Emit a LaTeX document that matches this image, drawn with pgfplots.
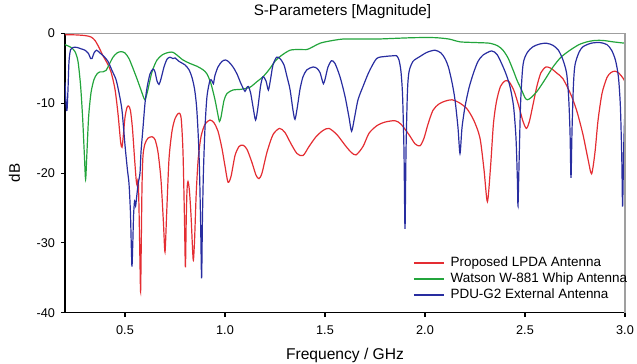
\documentclass[border=0pt]{standalone}
\usepackage{fontspec}
\setmainfont{Liberation Sans}
\usepackage{pgfplots}
\pgfplotsset{compat=1.18}
\definecolor{cred}{RGB}{228,45,50}
\definecolor{cgreen}{RGB}{35,165,60}
\definecolor{cblue}{RGB}{40,45,160}

\begin{document}
\begin{tikzpicture}
\begin{axis}[name=ax, at={(0,0)}, anchor=south west,
  scale only axis, width=420pt, height=209.4pt,
  xmin=0.2, xmax=3.0, ymin=-40, ymax=0,
  xtick={0.5,1.0,1.5,2.0,2.5,3.0},
  ytick={-40,-30,-20,-10,0},
  axis x line*=bottom, axis y line*=left,
  axis line style={-, black, line width=1.1pt},
  tick style={black, line width=0.8pt},
  major tick length=3pt, tick align=outside,
  x tick label style={yshift=-3pt, /pgf/number format/.cd, fixed, fixed zerofill, precision=1},
  y tick label style={xshift=-1pt},
  /pgf/number format/assume math mode=true,
  tick label style={font=\fontsize{9.5}{11}\selectfont},
  title={S-Parameters [Magnitude]},
  title style={at={(axis description cs:0.5,1)}, anchor=base, yshift=7.7pt, xshift=-1.9pt, font=\fontsize{11.4}{13}\selectfont},
  xlabel={Frequency / GHz},
  xlabel style={at={(axis description cs:0.5,-0.169)}, anchor=base, font=\fontsize{11.7}{13}\selectfont},
  ylabel={dB},
  ylabel style={at={(axis description cs:-0.0905,0.5)}, anchor=center, font=\fontsize{11.4}{13}\selectfont},
  legend style={at={(axis description cs:0.621,0.208)}, anchor=north west, draw=none, fill=none,
    font=\fontsize{10.1}{12}\selectfont, inner sep=0pt, row sep=-0.55pt, column sep=3.5pt,
    nodes={inner sep=1pt, text height=8pt, text depth=2.5pt}, cells={anchor=west}},
  legend image code/.code={\draw[#1] (0pt,0pt) -- (22.5pt,0pt);},
  after end axis/.code={\draw[draw=gray!75, line width=1.1pt] (rel axis cs:0,1) -- (rel axis cs:1,1) -- (rel axis cs:1,0);},
]
\addlegendimage{draw=cred, line width=1.15pt}
\addlegendentry{Proposed LPDA Antenna}
\addlegendimage{draw=cgreen, line width=1.15pt}
\addlegendentry{Watson W-881 Whip Antenna}
\addlegendimage{draw=cblue, line width=1.15pt}
\addlegendentry{PDU-G2 External Antenna}
\addplot[draw=cred, line width=0.9pt, smooth, tension=0.45, forget plot] coordinates {
(0.200,-0.2) (0.250,-0.2) (0.300,-0.3) (0.330,-0.5) (0.350,-1.0) (0.370,-2.0) (0.390,-3.2)
(0.410,-4.2) (0.430,-5.5) (0.450,-8.0) (0.465,-11.5) (0.478,-15.5) (0.485,-16.3) (0.492,-14.5)
(0.500,-12.0) (0.510,-10.6) (0.518,-10.4) (0.527,-11.0) (0.537,-13.5) (0.548,-18.0) (0.556,-21.0)
(0.561,-21.8) (0.566,-21.0) (0.570,-25.0) (0.575,-33.0) (0.578,-37.0) (0.581,-31.0) (0.585,-22.0)
(0.590,-17.5) (0.600,-15.8) (0.615,-15.0) (0.635,-14.8) (0.650,-15.2) (0.665,-17.0) (0.680,-21.0)
(0.692,-27.0) (0.700,-31.3) (0.708,-26.0) (0.720,-18.0) (0.735,-14.0) (0.750,-12.2) (0.765,-11.5)
(0.775,-11.5) (0.782,-12.5) (0.790,-17.0) (0.797,-26.0) (0.802,-33.5) (0.806,-27.0) (0.810,-22.5)
(0.815,-21.2) (0.822,-22.5) (0.830,-26.0) (0.838,-31.0) (0.842,-32.5) (0.848,-29.5) (0.856,-23.0)
(0.866,-18.0) (0.880,-14.8) (0.900,-13.0) (0.925,-12.4) (0.945,-12.8) (0.965,-14.0) (0.985,-16.5)
(1.000,-19.0) (1.015,-21.3) (1.030,-20.5) (1.050,-17.5) (1.070,-16.2) (1.090,-16.0) (1.110,-16.6)
(1.135,-18.5) (1.155,-20.3) (1.170,-20.8) (1.185,-20.0) (1.210,-17.0) (1.240,-14.5) (1.273,-13.6)
(1.300,-14.2) (1.330,-15.8) (1.360,-17.2) (1.390,-17.5) (1.420,-16.2) (1.455,-14.8) (1.490,-13.9)
(1.520,-13.6) (1.560,-14.5) (1.600,-16.0) (1.630,-17.0) (1.655,-17.4) (1.690,-16.2) (1.720,-14.3)
(1.760,-13.2) (1.800,-12.7) (1.850,-12.5) (1.880,-13.0) (1.920,-14.5) (1.950,-15.8) (1.975,-16.1)
(1.995,-15.0) (2.015,-13.0) (2.040,-11.0) (2.070,-10.1) (2.100,-9.7) (2.135,-9.5) (2.170,-9.9)
(2.210,-10.8) (2.245,-12.5) (2.275,-15.0) (2.295,-19.5) (2.312,-24.1) (2.328,-19.0) (2.342,-13.0)
(2.357,-9.8) (2.377,-7.6) (2.400,-6.8) (2.420,-6.9) (2.445,-8.2) (2.470,-10.5) (2.490,-12.6)
(2.507,-13.6) (2.522,-12.6) (2.540,-10.2) (2.560,-7.5) (2.580,-5.6) (2.605,-4.8) (2.630,-5.0)
(2.660,-5.7) (2.690,-6.5) (2.730,-8.8) (2.760,-11.2) (2.790,-14.5) (2.815,-18.0) (2.833,-20.1)
(2.850,-17.0) (2.865,-12.5) (2.885,-8.6) (2.910,-6.3) (2.930,-5.6) (2.950,-5.4) (2.970,-5.7)
(2.990,-6.4) (3.000,-6.9)
};
\addplot[draw=cgreen, line width=0.9pt, smooth, tension=0.45, forget plot] coordinates {
(0.200,-1.6) (0.230,-2.0) (0.250,-2.6) (0.265,-4.0) (0.278,-7.5) (0.288,-12.0) (0.297,-17.5)
(0.303,-20.9) (0.309,-17.5) (0.318,-12.0) (0.330,-8.5) (0.345,-6.6) (0.360,-5.8) (0.375,-5.5)
(0.390,-5.5) (0.405,-5.3) (0.420,-4.5) (0.440,-3.4) (0.460,-2.8) (0.480,-2.6) (0.500,-2.8)
(0.520,-3.6) (0.540,-5.0) (0.560,-6.5) (0.580,-8.1) (0.595,-9.3) (0.602,-9.4) (0.615,-8.0)
(0.635,-5.5) (0.660,-3.8) (0.690,-3.0) (0.720,-2.7) (0.740,-2.7) (0.760,-3.1) (0.790,-3.8)
(0.825,-4.3) (0.860,-4.7) (0.890,-5.2) (0.910,-5.8) (0.930,-7.2) (0.950,-9.5) (0.965,-11.7)
(0.972,-12.6) (0.980,-12.0) (0.995,-9.6) (1.010,-8.6) (1.040,-8.1) (1.080,-8.0) (1.125,-7.7)
(1.160,-6.9) (1.190,-6.2) (1.220,-5.2) (1.250,-4.0) (1.280,-3.2) (1.325,-2.4) (1.370,-2.3)
(1.410,-2.3) (1.440,-1.9) (1.475,-1.4) (1.520,-1.1) (1.590,-0.8) (1.680,-0.8) (1.760,-0.8)
(1.850,-0.7) (1.950,-0.6) (2.050,-0.6) (2.120,-0.8) (2.175,-1.2) (2.250,-1.3) (2.325,-1.4)
(2.365,-1.8) (2.390,-2.4) (2.415,-3.5) (2.440,-5.2) (2.460,-6.7) (2.483,-8.1) (2.500,-9.2)
(2.512,-9.5) (2.530,-9.2) (2.560,-8.3) (2.600,-6.6) (2.640,-4.8) (2.680,-3.4) (2.725,-2.4)
(2.770,-1.6) (2.810,-1.2) (2.850,-1.0) (2.890,-1.0) (2.940,-1.2) (3.000,-1.4)
};
\addplot[draw=cblue, line width=0.9pt, smooth, tension=0.45, forget plot] coordinates {
(0.200,-7.0) (0.205,-10.0) (0.210,-11.0) (0.215,-8.0) (0.220,-4.0) (0.228,-2.3) (0.240,-2.0)
(0.260,-2.0) (0.280,-2.2) (0.300,-2.4) (0.318,-2.9) (0.328,-3.6) (0.335,-3.6) (0.345,-2.8)
(0.358,-2.4) (0.375,-2.8) (0.395,-3.3) (0.415,-4.0) (0.435,-5.3) (0.455,-6.6) (0.470,-8.5)
(0.485,-11.0) (0.500,-16.0) (0.512,-19.5) (0.520,-21.5) (0.527,-25.5) (0.532,-31.0) (0.535,-33.4)
(0.539,-30.0) (0.543,-26.0) (0.548,-24.0) (0.553,-24.7) (0.558,-23.5) (0.566,-21.5) (0.575,-20.0)
(0.580,-17.0) (0.590,-13.5) (0.600,-10.0) (0.610,-7.8) (0.625,-5.8) (0.640,-5.1) (0.650,-5.5)
(0.660,-6.8) (0.670,-7.3) (0.680,-6.5) (0.695,-4.8) (0.710,-3.7) (0.725,-3.4) (0.740,-3.6)
(0.750,-3.5) (0.770,-4.0) (0.800,-4.5) (0.820,-5.2) (0.835,-6.3) (0.848,-8.0) (0.858,-10.5)
(0.866,-14.5) (0.872,-19.0) (0.878,-27.0) (0.883,-35.1) (0.887,-27.0) (0.892,-20.0) (0.900,-13.5)
(0.910,-9.0) (0.925,-6.7) (0.935,-6.8) (0.942,-7.2) (0.950,-6.0) (0.965,-4.8) (0.985,-4.0)
(1.003,-3.8) (1.020,-4.1) (1.040,-4.8) (1.060,-5.8) (1.080,-7.2) (1.100,-8.3) (1.108,-7.8)
(1.117,-7.6) (1.128,-8.5) (1.140,-10.5) (1.153,-12.4) (1.165,-10.5) (1.178,-7.5) (1.190,-6.2)
(1.205,-6.8) (1.217,-8.1) (1.228,-6.5) (1.240,-4.5) (1.258,-3.4) (1.275,-3.6) (1.295,-4.5)
(1.310,-6.2) (1.325,-8.0) (1.340,-11.0) (1.350,-12.3) (1.362,-10.5) (1.375,-8.0) (1.390,-6.2)
(1.410,-5.2) (1.440,-4.8) (1.460,-5.0) (1.475,-5.6) (1.485,-6.6) (1.492,-7.2) (1.500,-6.6)
(1.515,-4.8) (1.533,-3.9) (1.550,-4.3) (1.575,-6.2) (1.600,-9.0) (1.620,-12.0) (1.633,-14.0)
(1.648,-12.0) (1.665,-9.5) (1.690,-7.6) (1.720,-5.5) (1.758,-3.6) (1.800,-3.3) (1.840,-3.2)
(1.858,-3.2) (1.870,-3.8) (1.880,-5.5) (1.888,-9.0) (1.895,-17.0) (1.900,-28.0) (1.905,-17.0)
(1.912,-8.5) (1.920,-5.5) (1.940,-4.0) (1.975,-3.3) (2.010,-2.7) (2.050,-2.4) (2.080,-2.8)
(2.100,-3.6) (2.117,-4.8) (2.135,-7.0) (2.150,-9.5) (2.165,-13.5) (2.175,-17.2) (2.185,-13.5)
(2.200,-10.5) (2.220,-7.8) (2.242,-5.7) (2.265,-4.0) (2.290,-3.1) (2.333,-2.5) (2.360,-3.0)
(2.383,-4.3) (2.405,-5.8) (2.425,-7.6) (2.443,-10.5) (2.455,-15.0) (2.462,-21.0) (2.465,-24.7)
(2.470,-19.0) (2.478,-10.0) (2.490,-4.5) (2.510,-2.8) (2.540,-1.9) (2.575,-1.5) (2.608,-1.4)
(2.640,-1.7) (2.667,-2.4) (2.690,-3.8) (2.708,-5.7) (2.718,-9.0) (2.725,-14.0) (2.730,-20.7)
(2.735,-14.0) (2.742,-7.5) (2.750,-4.5) (2.770,-2.7) (2.790,-1.9) (2.830,-1.4) (2.875,-1.3)
(2.910,-1.6) (2.933,-2.4) (2.952,-3.8) (2.967,-6.2) (2.977,-10.5) (2.984,-18.0) (2.988,-24.8)
(2.993,-17.0) (2.997,-13.0) (3.000,-11.0)
};
\end{axis}
\pgfresetboundingbox
\path[use as bounding box] (-48.75pt,-38.5pt) rectangle (429pt,234.5pt);
\end{tikzpicture}
\end{document}
